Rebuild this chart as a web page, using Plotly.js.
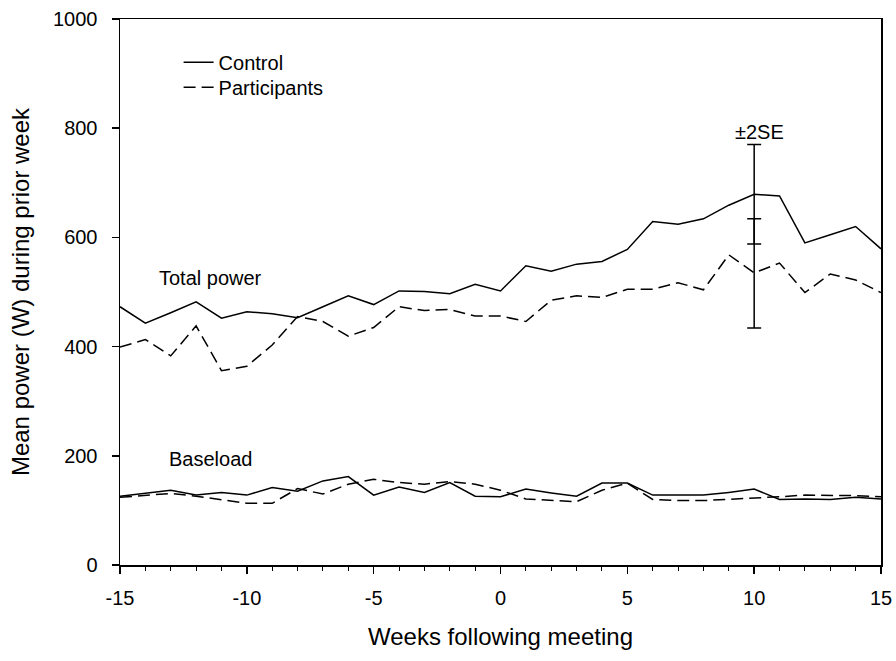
<!DOCTYPE html>
<html>
<head>
<meta charset="utf-8">
<script src="https://cdn.plot.ly/plotly-3.0.1.min.js"></script>
<style>html,body{margin:0;padding:0;background:#fff}#chart{width:896px;height:661px}</style>
</head>
<body>
<div id="chart"></div>
<script>
const weeks = [-15,-14,-13,-12,-11,-10,-9,-8,-7,-6,-5,-4,-3,-2,-1,0,1,2,3,4,5,6,7,8,9,10,11,12,13,14,15];
const controlTotal = [473,443,462,482,452,464,460,453,473,493,477,502,501,497,514,502,548,538,551,556,578,629,624,634,659,679,676,590,605,620,579];
const participantsTotal = [399,413,383,438,356,364,403,455,446,419,435,473,466,468,456,456,446,485,493,490,505,505,517,504,568,535,553,499,533,522,499];
const controlBase = [126,131,137,128,133,128,142,135,154,162,128,143,133,151,126,125,139,132,126,150,150,128,128,128,133,139,120,121,120,124,121];
const participantsBase = [124,127,131,126,119,113,113,140,130,148,157,151,148,153,148,137,121,119,116,137,150,120,118,118,120,123,125,128,128,127,125];
const seWeek = [10];
const seTotalCenter = [602];
const seTotalHalf = [168];
const seBaseCenter = [611];
const seBaseHalf = [23];
const xTickVals = [-15,-10,-5,0,5,10,15];
const xTickText = ['-15','-10','-5','0','5','10','15'];
const yTickVals = [0,200,400,600,800,1000];
const yTickText = ['0','200','400','600','800','1000'];

const solid = {color:'#000', width:1.5};
const dashed = {color:'#000', width:1.5, dash:'12px,6px'};
const fam = '"Liberation Sans", Arial, sans-serif';
const f = s => ({family:fam, color:'#000', size:s});

const traces = [
  {x:weeks, y:controlTotal, mode:'lines', line:solid, name:'Control', showlegend:true, legend:'legend'},
  {x:weeks, y:participantsTotal, mode:'lines', line:dashed, name:'Participants', showlegend:true, legend:'legend2'},
  {x:weeks, y:controlBase, mode:'lines', line:solid, showlegend:false},
  {x:weeks, y:participantsBase, mode:'lines', line:dashed, showlegend:false},
  {x:seWeek, y:seTotalCenter, mode:'markers', marker:{size:1,color:'rgba(0,0,0,0)'}, showlegend:false,
   error_y:{type:'data', array:seTotalHalf, visible:true, color:'#000', thickness:1.5, width:7}},
  {x:seWeek, y:seBaseCenter, mode:'markers', marker:{size:1,color:'rgba(0,0,0,0)'}, showlegend:false,
   error_y:{type:'data', array:seBaseHalf, visible:true, color:'#000', thickness:1.5, width:7}}
];

const legBase = {xanchor:'left', yanchor:'middle', bgcolor:'rgba(0,0,0,0)', font:f(20), borderwidth:0};

const layout = {
  width:896, height:661,
  margin:{l:120, r:15, t:19, b:96},
  paper_bgcolor:'#fff', plot_bgcolor:'#fff',
  font:f(20),
  showlegend:true,
  legend:Object.assign({x:0.077, y:0.921}, legBase),
  legend2:Object.assign({x:0.077, y:0.875}, legBase),
  xaxis:{
    range:[-15,15], tickmode:'array', tickvals:xTickVals, ticktext:xTickText,
    ticks:'outside', ticklen:7, tickwidth:1.5, tickcolor:'#000',
    minor:{tickmode:'linear', tick0:-15, dtick:1, ticks:'outside', ticklen:4, tickwidth:1, tickcolor:'#000'},
    showline:true, linecolor:'#000', linewidth:1.5, mirror:true,
    showgrid:false, zeroline:false,
    tickfont:f(20), ticklabelstandoff:7,
    title:{text:'Weeks following meeting', font:f(24), standoff:20}
  },
  yaxis:{
    range:[0,1000], tickmode:'array', tickvals:yTickVals, ticktext:yTickText,
    ticks:'outside', ticklen:7, tickwidth:1.5, tickcolor:'#000',
    showline:true, linecolor:'#000', linewidth:1.5, mirror:true,
    showgrid:false, zeroline:false,
    tickfont:f(20), ticklabelstandoff:10,
    title:{text:'Mean power (W) during prior week', font:f(24), standoff:16}
  },
  annotations:[
    {x:-11.45, y:526, xref:'x', yref:'y', text:'Total power', showarrow:false, font:f(20)},
    {x:-11.45, y:194, xref:'x', yref:'y', text:'Baseload', showarrow:false, font:f(20)},
    {x:10.2, y:793, xref:'x', yref:'y', text:'±2SE', showarrow:false, font:f(20)}
  ]
};

Plotly.newPlot('chart', traces, layout, {displayModeBar:false, staticPlot:true});
</script>
</body>
</html>
